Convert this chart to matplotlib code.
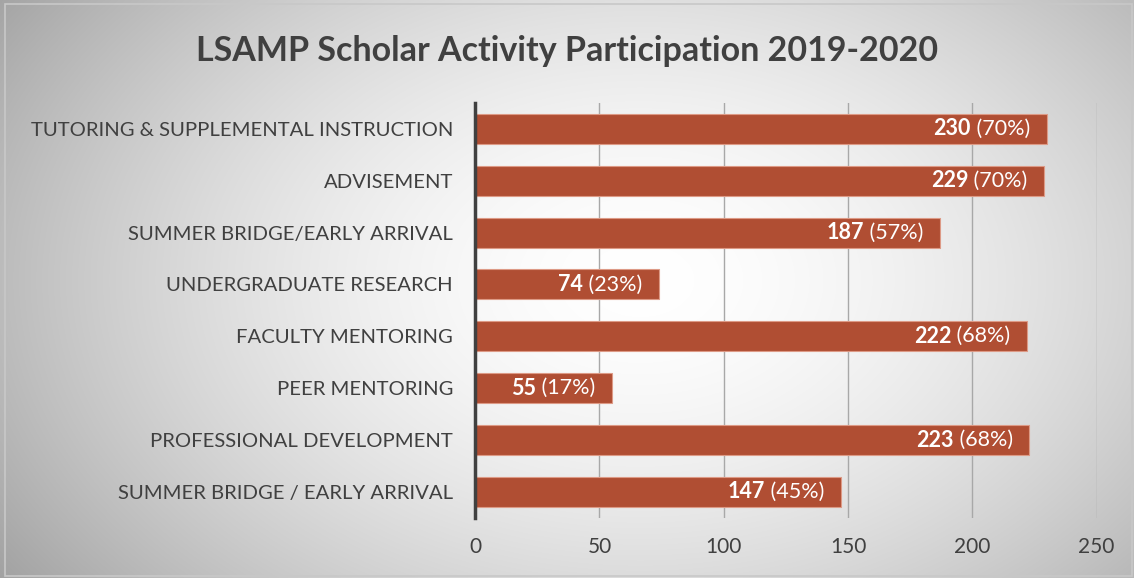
import numpy as np
import matplotlib.pyplot as plt
from matplotlib.patches import Rectangle

categories = [
    "TUTORING & SUPPLEMENTAL INSTRUCTION",
    "ADVISEMENT",
    "SUMMER BRIDGE/EARLY ARRIVAL",
    "UNDERGRADUATE RESEARCH",
    "FACULTY MENTORING",
    "PEER MENTORING",
    "PROFESSIONAL DEVELOPMENT",
    "SUMMER BRIDGE / EARLY ARRIVAL",
]
counts = [230, 229, 187, 74, 222, 55, 223, 147]
percents = [70, 70, 57, 23, 68, 17, 68, 45]
xticks = [0, 50, 100, 150, 200, 250]

plt.rcParams['font.family'] = ['Lato', 'DejaVu Sans']

fig = plt.figure(figsize=(11.34, 5.78), dpi=100)

# radial gradient background
bg = fig.add_axes([0, 0, 1, 1], zorder=-10)
yy, xx = np.mgrid[0:578, 0:1134]
r = np.sqrt(((xx - 640) / 620.0) ** 2 + ((yy - 280) / 420.0) ** 2)
shade = 1.0 - 0.25 * np.clip(r, 0, 1.3) ** 1.7
img = np.dstack([shade, shade, shade])
bg.imshow(img, extent=[0, 1, 0, 1], aspect='auto', origin='upper')
bg.add_patch(Rectangle((0.004, 0.003), 0.994, 0.99, fill=False,
                       edgecolor='#c8c8c8', linewidth=1.2, transform=bg.transAxes))
bg.axis('off')

ax = fig.add_axes([0.419, 0.104, 0.548, 0.718])
ax.patch.set_alpha(0)
y = np.arange(len(categories))
ax.barh(y, counts, height=0.58, color='#B04E33', edgecolor='#dd9a86',
        linewidth=0.8, zorder=3)
ax.set_xlim(0, 250)
ax.set_ylim(len(categories) - 0.5, -0.5)
ax.set_xticks(xticks)
ax.set_yticks(y)
ax.set_yticklabels(categories)
ax.tick_params(axis='y', length=0, pad=16, labelsize=14.6, labelcolor='#404040')
ax.tick_params(axis='x', length=0, pad=14, labelsize=15, labelcolor='#404040')
ax.grid(axis='x', color='#a8a8a8', linewidth=1.0, zorder=0)
for s in ['top', 'right', 'bottom']:
    ax.spines[s].set_visible(False)
ax.spines['left'].set_color('#404040')
ax.spines['left'].set_linewidth(2.5)
ax.spines['left'].set_zorder(4)

fig.suptitle("LSAMP Scholar Activity Participation 2019-2020", x=0.5, y=0.94,
             fontsize=24.5, fontweight='bold', color='#404040')

pct_texts = []
for yi, c, p in zip(y, counts, percents):
    t = ax.annotate(f" ({p}%)", xy=(c, yi), xytext=(-12, 0), textcoords='offset points',
                    ha='right', va='center', fontsize=15.5, color='white', zorder=5)
    pct_texts.append(t)

fig.canvas.draw()
renderer = fig.canvas.get_renderer()
for t, yi, c in zip(pct_texts, y, counts):
    bb = t.get_window_extent(renderer)
    w_pts = bb.width * 72.0 / fig.dpi
    ax.annotate(f"{c}", xy=(c, yi), xytext=(-12 - w_pts, 0), textcoords='offset points',
                ha='right', va='center', fontsize=15.5, fontweight='bold',
                color='white', zorder=5)

fig.savefig("out.png", dpi=100)
